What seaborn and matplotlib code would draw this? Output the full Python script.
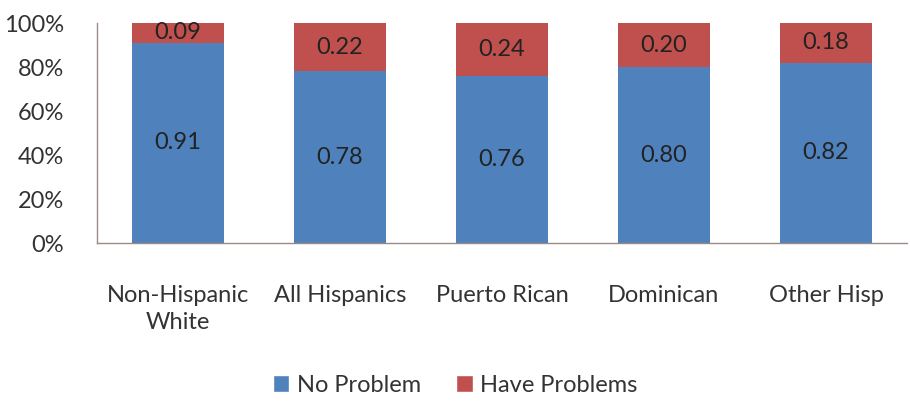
import matplotlib
matplotlib.use("Agg")
import matplotlib.pyplot as plt
import seaborn as sns
import pandas as pd
from matplotlib.patches import Patch
from matplotlib.ticker import PercentFormatter

categories = ["Non-Hispanic\nWhite", "All Hispanics", "Puerto Rican", "Dominican", "Other Hisp"]
no_problem = [0.91, 0.78, 0.76, 0.80, 0.82]
have_problems = [0.09, 0.22, 0.24, 0.20, 0.18]
series_names = ["No Problem", "Have Problems"]
colors = ["#4F81BD", "#C0504D"]

sns.set_theme(style="white")
plt.rcParams["font.family"] = ["Lato", "DejaVu Sans"]

df = pd.DataFrame({"cat": categories, "no": no_problem, "have": have_problems})
df["total"] = df["no"] + df["have"]

fig = plt.figure(figsize=(9.10, 4.07), dpi=100)
ax = fig.add_axes([97/910, 1 - 243/407, 810/910, 220/407])

sns.barplot(data=df, x="cat", y="total", color=colors[1], width=0.57, ax=ax,
            saturation=1, linewidth=0)
sns.barplot(data=df, x="cat", y="no", color=colors[0], width=0.57, ax=ax,
            saturation=1, linewidth=0)

for i, (n, h) in enumerate(zip(no_problem, have_problems)):
    ax.text(i, n / 2, f"{n:.2f}", ha="center", va="center", fontsize=17, color="#222222")
    ax.text(i, n + h / 2, f"{h:.2f}", ha="center", va="center", fontsize=17, color="#222222")

ax.set_ylim(0, 1)
ax.set_yticks([0, 0.2, 0.4, 0.6, 0.8, 1.0])
ax.yaxis.set_major_formatter(PercentFormatter(1.0, decimals=0))
ax.set_xlim(-0.5, 4.5)
ax.set_xlabel("")
ax.set_ylabel("")
ax.tick_params(axis="both", length=0, labelsize=17, colors="#333333")
ax.tick_params(axis="y", pad=24)
ax.tick_params(axis="x", pad=30)
for lbl in ax.get_xticklabels():
    lbl.set_linespacing(1.35)
for s in ["top", "right"]:
    ax.spines[s].set_visible(False)
for s in ["left", "bottom"]:
    ax.spines[s].set_color("#9a8a86")
    ax.spines[s].set_linewidth(1.0)

handles = [Patch(facecolor=colors[0], label=series_names[0]),
           Patch(facecolor=colors[1], label=series_names[1])]
fig.legend(handles=handles, loc="center", bbox_to_anchor=(455/910, 1 - 385/407), ncol=2,
           frameon=False, fontsize=17, handlelength=0.7, handleheight=0.7,
           handletextpad=0.3, columnspacing=1.5, labelcolor="#333333")

fig.savefig("out.png", dpi=100)
